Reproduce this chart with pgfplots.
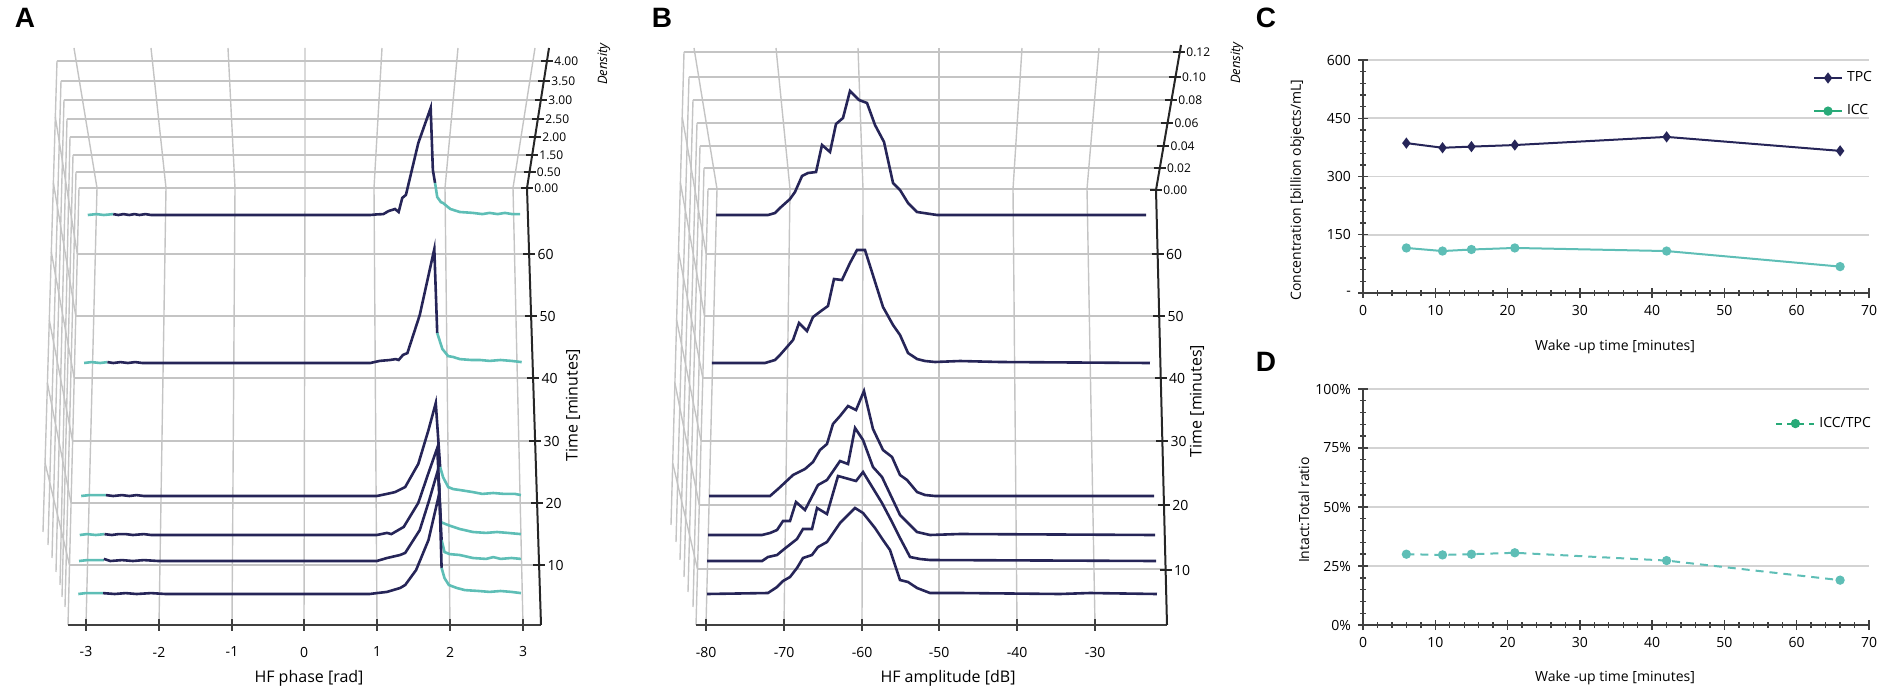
\documentclass[border=0pt]{standalone}
\usepackage{pgfplots}
\pgfplotsset{compat=1.18}
\usepackage{fontspec}
\setmainfont{Open Sans}
\newfontfamily\letterfont{Liberation Sans}
\definecolor{navy}{HTML}{262558}
\definecolor{teal2}{HTML}{5EBEB6}
\definecolor{lgreen}{HTML}{28AA78}
\definecolor{gridc}{HTML}{C4C4C4}
\definecolor{gridcd}{HTML}{D3D3D3}
\definecolor{axc}{HTML}{404040}
\tikzset{gridl/.style={gridc, line width=0.7pt}, axl/.style={black!85, line width=1pt}}
\newcommand{\Aseg}[3]{\addplot[#2, line width=1.3pt, forget plot] table[row sep=\\, header=false, x expr=304+72.8*\thisrowno{0}, y expr=#1-30*\thisrowno{1}] {#3};}
\newcommand{\Bseg}[2]{\addplot[navy, line width=1.3pt, forget plot] table[row sep=\\, header=false, x expr=706+7.77*(\thisrowno{0}+80), y expr=#1-1000*\thisrowno{1}] {#2};}
\begin{document}
\begin{tikzpicture}
\useasboundingbox (0,0) rectangle (950.5pt,-347pt);
\begin{scope}[x=0.5pt, y=-0.5pt]
% ================= PANEL A grid =================
\foreach \a/\b/\c in {79/188/527, 76/172/529.5, 73/155/532, 70/137/535, 67/119/538, 64/100/541, 61/81/544, 57/61/547}
  \draw[gridl] (\a,\b) -- (\c,\b);
\foreach \a/\b/\c/\d in {79/188/68/625, 76/172/65/607, 73/155/62/597, 70/137/60/585, 67/119/56/572, 64/100/52/558, 61/81/48/545, 57/61/43/532}
  \draw[gridl] (\a,\b) -- (\c,\d);
\foreach \a/\b/\c/\d in {77.3/254/55.3/117, 75.8/316/53.4/183, 74.2/378/51.3/252, 72.6/441/49.3/320, 71.1/503/47.4/383, 69.5/565/45.1/463}
  \draw[gridl] (\a,\b) -- (\c,\d);
\foreach \a/\b/\c in {77.3/254/529.1, 75.8/316/531.1, 74.2/378/533.1, 72.6/441/535.1, 71.1/503/537.1, 69.5/565/539.1}
  \draw[gridl] (\a,\b) -- (\c,\b);
\foreach \a/\b/\c in {86/97/74, 159/166/151, 232/235/228, 304/305/305, 377/374/382, 450/445/458, 523/513/535}
  \draw[gridl] (\a,625) -- (\b,188) -- (\c,48);
% axes A
\draw[axc, line width=1pt] (68,625) -- (541,625);
\foreach \a/\l in {86/-3, 159/-2, 232/-1, 304/0, 377/1, 450/2, 523/3} {
  \draw[axc, line width=0.8pt] (\a,619) -- (\a,631);
  \node[font=\fontsize{7}{8}\selectfont] at (\a,652) {\l};
}
\draw[axl] (541,625) -- (527,188) -- (549,48);
\foreach \a/\b/\l in {529.1/254/60, 531.1/316/50, 533.1/378/40, 535.1/441/30, 537.1/503/20, 539.1/565/10} {
  \draw[axl, line width=0.8pt] (\a-6,\b) -- (\a+6,\b);
  \node[font=\fontsize{7}{8}\selectfont, anchor=west, inner sep=0pt] at (\a+8,\b) {\l};
}
\foreach \a/\b/\l in {527/188/0.00, 529.5/172/0.50, 532/155/1.50, 535/137/2.00, 538/119/2.50, 541/100/3.00, 544/81/3.50, 547/61/4.00} {
  \draw[axl, line width=0.8pt] (\a-6,\b) -- (\a+6,\b);
  \node[font=\fontsize{6}{7}\selectfont, anchor=west, inner sep=0pt] at (\a+7,\b) {\l};
}
\node[font=\fontsize{8}{9}\selectfont] at (309,678) {HF phase [rad]};
\node[font=\fontsize{8}{9}\selectfont, rotate=90] at (573,405) {Time [minutes]};
\node[font=\fontsize{6.5}{7}\selectfont\itshape, rotate=90] at (604,64) {Density};
\node[font=\fontsize{14}{16}\selectfont\letterfont\bfseries] at (25,18) {A};
% ================= PANEL B grid =================
\foreach \a/\b/\c in {708/189/1156, 704/168/1159.7, 700/146/1163.3, 697/123/1167.2, 693/100/1171, 689/77/1174.8, 684/52/1179}
  \draw[gridl] (\a,\b) -- (\c,\b);
\foreach \a/\b/\c/\d in {708/189/696/625, 704/168/693/607, 700/146/688/592, 697/123/684/577, 693/100/680/560, 689/77/676/542, 684/52/671/525}
  \draw[gridl] (\a,\b) -- (\c,\d);
\foreach \a/\b/\c/\d in {706.2/254/682.2/117, 704.5/316/680.4/183, 702.8/378/678.5/252, 701.1/441/676.6/320, 699.3/505/674.9/383, 697.5/569/672.7/463}
  \draw[gridl] (\a,\b) -- (\c,\d);
\foreach \a/\b/\c in {706.2/254/1157.6, 704.5/316/1159.2, 702.8/378/1160.8, 701.1/441/1162.3, 699.3/505/1164, 697.5/569/1165.6}
  \draw[gridl] (\a,\b) -- (\c,\b);
\foreach \a/\b/\c in {706/717/694, 784/790/776, 862/863/858, 939/939/939, 1017/1013/1022, 1095/1087/1099}
  \draw[gridl] (\a,625) -- (\b,189) -- (\c,48);
\draw[axc, line width=1pt] (696,625) -- (1167,625);
\foreach \a/\l in {706/-80, 784/-70, 862/-60, 939/-50, 1017/-40, 1095/-30} {
  \draw[axc, line width=0.8pt] (\a,619) -- (\a,631);
  \node[font=\fontsize{7}{8}\selectfont] at (\a,652) {\l};
}
\draw[axl] (1167,625) -- (1156,190) -- (1181,45);
\foreach \a/\b/\l in {1157.6/254/60, 1159.2/316/50, 1160.8/378/40, 1162.3/441/30, 1164/505/20, 1165.6/570/10} {
  \draw[axl, line width=0.8pt] (\a-6,\b) -- (\a+6,\b);
  \node[font=\fontsize{7}{8}\selectfont, anchor=west, inner sep=0pt] at (\a+8,\b) {\l};
}
\foreach \a/\b/\l in {1156/190/0.00, 1159.7/168/0.02, 1163.3/146/0.04, 1167.2/123/0.06, 1171/100/0.08, 1174.8/77/0.10, 1179/52/0.12} {
  \draw[axl, line width=0.8pt] (\a-6,\b) -- (\a+6,\b);
  \node[font=\fontsize{6}{7}\selectfont, anchor=west, inner sep=0pt] at (\a+7,\b) {\l};
}
\node[font=\fontsize{8}{9}\selectfont] at (948,678) {HF amplitude [dB]};
\node[font=\fontsize{8}{9}\selectfont, rotate=90] at (1197,401) {Time [minutes]};
\node[font=\fontsize{6.5}{7}\selectfont\itshape, rotate=90] at (1237,63) {Density};
\node[font=\fontsize{14}{16}\selectfont\letterfont\bfseries] at (662,18) {B};
\node[font=\fontsize{14}{16}\selectfont\letterfont\bfseries] at (1266,18) {C};
\node[font=\fontsize{14}{16}\selectfont\letterfont\bfseries] at (1266,362) {D};
\end{scope}
% ================= traces A and B =================
\begin{axis}[at={(0pt,0pt)}, anchor=north west, scale only axis, width=950.5pt, height=347pt,
  xmin=0, xmax=1901, ymin=0, ymax=694, y dir=reverse, hide axis, clip=false]
% A, t = 66
\Aseg{215}{teal2}{-2.97 0\\ -2.85 0.03\\ -2.75 0\\ -2.62 0.03\\}
\Aseg{215}{navy}{-2.62 0.03\\ -2.55 0\\ -2.48 0.03\\ -2.40 0\\ -2.33 0.03\\ -2.26 0\\ -2.18 0.03\\ -2.10 0\\ -1.90 0\\ 0.91 0\\ 1.00 0.02\\ 1.09 0.03\\ 1.16 0.13\\ 1.25 0.2\\ 1.30 0.1\\ 1.35 0.57\\ 1.40 0.67\\ 1.57 2.4\\ 1.74 3.57\\ 1.77 1.5\\ 1.80 1.07\\}
\Aseg{215}{teal2}{1.80 1.07\\ 1.83 0.6\\ 1.88 0.43\\ 1.91 0.4\\ 2.01 0.2\\ 2.14 0.1\\ 2.32 0.07\\ 2.45 0.03\\ 2.55 0.07\\ 2.66 0.03\\ 2.76 0.07\\ 2.86 0.03\\ 2.97 0.03\\}
% A, t = 42
\Aseg{363}{teal2}{-3.02 0\\ -2.92 0.03\\ -2.80 0\\ -2.70 0.03\\}
\Aseg{363}{navy}{-2.70 0.03\\ -2.62 0\\ -2.52 0.03\\ -2.42 0\\ -2.32 0.03\\ -2.22 0\\ -2.0 0\\ 0.91 0\\ 1.04 0.07\\ 1.18 0.1\\ 1.26 0.13\\ 1.30 0.1\\ 1.36 0.27\\ 1.42 0.33\\ 1.59 1.6\\ 1.79 3.8\\ 1.83 1.0\\}
\Aseg{363}{teal2}{1.83 1.0\\ 1.90 0.47\\ 1.98 0.23\\ 2.05 0.2\\ 2.14 0.13\\ 2.30 0.1\\ 2.42 0.1\\ 2.55 0.07\\ 2.70 0.1\\ 2.85 0.07\\ 2.99 0.03\\}
% A, t = 21
\Aseg{496}{teal2}{-3.06 0\\ -2.95 0.03\\ -2.84 0.03\\ -2.72 0.03\\}
\Aseg{496}{navy}{-2.72 0.03\\ -2.62 0\\ -2.5 0.03\\ -2.4 0\\ -2.3 0.03\\ -2.2 0\\ 1.0 0\\ 1.14 0.07\\ 1.25 0.13\\ 1.39 0.3\\ 1.57 1.07\\ 1.71 2.2\\ 1.81 3.1\\ 1.87 0.97\\}
\Aseg{496}{teal2}{1.87 0.97\\ 1.91 0.63\\ 1.98 0.3\\ 2.05 0.23\\ 2.14 0.2\\ 2.32 0.13\\ 2.45 0.07\\ 2.6 0.1\\ 2.75 0.07\\ 2.9 0.07\\ 2.98 0.03\\}
% A, t = 15
\Aseg{535}{teal2}{-3.08 0\\ -2.98 0.03\\ -2.86 0\\ -2.74 0.03\\}
\Aseg{535}{navy}{-2.74 0.03\\ -2.64 0\\ -2.55 0.03\\ -2.45 0.03\\ -2.35 0\\ -2.2 0.03\\ -2.1 0\\ 1.0 0\\ 1.14 0.07\\ 1.2 0.03\\ 1.37 0.27\\ 1.57 1.07\\ 1.71 2.07\\ 1.83 2.9\\ 1.88 0.43\\}
\Aseg{535}{teal2}{1.88 0.43\\ 1.98 0.33\\ 2.14 0.2\\ 2.32 0.1\\ 2.5 0.07\\ 2.65 0.1\\ 2.8 0.07\\ 2.98 0.03\\}
% A, t = 11
\Aseg{561}{teal2}{-3.09 0\\ -2.98 0.03\\ -2.86 0.03\\ -2.75 0.03\\}
\Aseg{561}{navy}{-2.75 0.07\\ -2.66 0\\ -2.5 0.03\\ -2.35 0\\ -2.2 0.03\\ -2.0 0\\ 1.0 0\\ 1.14 0.1\\ 1.32 0.2\\ 1.39 0.27\\ 1.59 1.03\\ 1.72 2.03\\ 1.84 3.03\\ 1.89 0.7\\}
\Aseg{561}{teal2}{1.89 0.7\\ 1.93 0.3\\ 2.0 0.23\\ 2.14 0.2\\ 2.32 0.1\\ 2.5 0.07\\ 2.6 0.13\\ 2.7 0.07\\ 2.85 0.1\\ 2.98 0.07\\}
% A, t = 6
\Aseg{594}{teal2}{-3.1 0\\ -3.0 0.03\\ -2.9 0.03\\ -2.76 0.03\\}
\Aseg{594}{navy}{-2.76 0.03\\ -2.6 0\\ -2.45 0.03\\ -2.3 0\\ -2.1 0.03\\ -1.9 0\\ 0.9 0\\ 1.0 0.03\\ 1.14 0.07\\ 1.32 0.2\\ 1.39 0.3\\ 1.54 0.8\\ 1.71 1.8\\ 1.86 3.37\\ 1.89 0.87\\}
\Aseg{594}{teal2}{1.89 0.87\\ 1.93 0.53\\ 1.99 0.3\\ 2.1 0.2\\ 2.21 0.13\\ 2.4 0.1\\ 2.55 0.07\\ 2.7 0.1\\ 2.85 0.07\\ 2.98 0.03\\}
% B, t = 66
\Bseg{215}{-78.71 0\\ -72.02 0\\ -71.12 0.002\\ -70.48 0.007\\ -69.19 0.016\\ -68.55 0.023\\ -67.64 0.039\\ -66.87 0.042\\ -65.84 0.043\\ -65.07 0.070\\ -64.04 0.063\\ -63.27 0.091\\ -62.37 0.097\\ -61.47 0.124\\ -60.31 0.115\\ -59.28 0.112\\ -58.25 0.090\\ -57.09 0.073\\ -55.93 0.032\\ -55.03 0.025\\ -54.00 0.012\\ -52.84 0.003\\ -50.27 0\\ -23.37 0\\}
% B, t = 42
\Bseg{363}{-79.23 0\\ -72.41 0\\ -71.12 0.003\\ -70.48 0.008\\ -69.58 0.016\\ -68.80 0.023\\ -68.03 0.040\\ -67.00 0.032\\ -66.23 0.046\\ -65.20 0.052\\ -64.30 0.057\\ -63.53 0.084\\ -62.50 0.083\\ -61.47 0.100\\ -60.57 0.113\\ -59.54 0.113\\ -57.22 0.056\\ -55.93 0.038\\ -55.03 0.028\\ -54.00 0.010\\ -52.84 0.004\\ -51.81 0.002\\ -50.53 0.001\\ -47.31 0.002\\ -42.16 0.001\\ -22.86 0\\}
% B, t = 21
\Bseg{496}{-79.61 0\\ -71.76 0\\ -70.73 0.007\\ -68.80 0.021\\ -67.26 0.027\\ -66.23 0.034\\ -65.33 0.046\\ -64.43 0.052\\ -63.66 0.072\\ -62.75 0.080\\ -61.72 0.090\\ -60.69 0.086\\ -59.67 0.105\\ -58.51 0.067\\ -57.22 0.046\\ -56.06 0.039\\ -55.03 0.021\\ -54.13 0.016\\ -52.84 0.004\\ -51.81 0.001\\ -50.53 0\\ -22.34 0\\}
% B, t = 15
\Bseg{535}{-79.74 0\\ -72.79 0\\ -71.76 0.002\\ -70.86 0.005\\ -70.09 0.014\\ -69.19 0.014\\ -68.42 0.033\\ -67.26 0.025\\ -65.59 0.050\\ -64.43 0.055\\ -62.75 0.074\\ -61.72 0.071\\ -60.82 0.107\\ -59.79 0.095\\ -58.51 0.068\\ -57.35 0.058\\ -55.03 0.020\\ -52.84 0.003\\ -51.17 0\\ -47.31 0.001\\ -22.21 0\\}
% B, t = 11
\Bseg{561}{-79.87 0\\ -72.79 0\\ -72.02 0.004\\ -70.86 0.006\\ -70.09 0.011\\ -68.29 0.022\\ -67.52 0.032\\ -66.36 0.032\\ -65.71 0.053\\ -64.43 0.047\\ -63.01 0.085\\ -60.69 0.080\\ -59.79 0.089\\ -57.35 0.058\\ -56.06 0.039\\ -55.03 0.023\\ -53.74 0.004\\ -52.46 0.002\\ -51.17 0.001\\ -22.08 0\\}
% B, t = 6
\Bseg{594}{-79.87 0\\ -72.02 0.001\\ -70.86 0.007\\ -70.09 0.013\\ -69.19 0.017\\ -68.29 0.026\\ -67.52 0.036\\ -66.36 0.039\\ -65.59 0.047\\ -64.43 0.052\\ -62.75 0.071\\ -60.82 0.086\\ -59.79 0.081\\ -58.25 0.066\\ -57.22 0.054\\ -56.32 0.044\\ -55.03 0.014\\ -54.00 0.012\\ -52.84 0.006\\ -51.17 0.001\\ -47.31 0.001\\ -34.44 0\\ -30.58 0.001\\ -21.96 0\\}
\end{axis}
% ================= PANEL C =================
\pgfplotsset{cdstyle/.style={scale only axis, width=253pt, xmin=0, xmax=70,
  axis x line*=bottom, axis y line*=left, axis line style={axc, line width=0.9pt},
  xtick={0,10,...,70}, xticklabels={0,10,20,30,40,50,60,70},
  minor x tick num=4, minor y tick num=4, tick align=center,
  major tick length=5pt, minor tick length=3pt, tick style={axc, line width=0.7pt},
  ymajorgrids, grid style={gridcd, line width=0.8pt},
  ticklabel style={font=\fontsize{7}{8}\selectfont},
  label style={font=\fontsize{7}{8}\selectfont},
  legend cell align=left,
  legend style={draw=none, fill=none, inner sep=0pt, font=\fontsize{7}{8}\selectfont}}}
\begin{axis}[cdstyle, at={(681.5pt,-146.5pt)}, anchor=south west, height=116.5pt,
  ymin=0, ymax=600, ytick={0,150,300,450,600}, yticklabels={-,150,300,450,600},
  xlabel={Wake -up time [minutes]}, ylabel={Concentration [billion objects/mL]},
  xlabel style={at={(axis description cs:0.498,-0.232)}, anchor=center},
  ylabel style={at={(axis description cs:-0.130,0.442)}, anchor=center},
  legend style={at={(axis cs:62.2,582)}, anchor=north west, row sep=6pt},
  legend image code/.code={\draw[mark repeat=2,mark phase=2,#1] plot coordinates {(0pt,0pt) (7pt,0pt) (14pt,0pt)};}]
\addplot[navy, line width=1pt, mark=diamond*, mark size=2pt] coordinates {(6,386) (11,374) (15,377) (21,381) (42,402) (66,366)};
\addlegendentry{TPC}
\addplot[teal2, line width=1pt, mark=*, mark size=1.8pt, forget plot] coordinates {(6,116) (11,108) (15,112) (21,116) (42,108) (66,68)};
\addlegendimage{lgreen, line width=1pt, mark=*, mark size=1.8pt}
\addlegendentry{ICC}
\end{axis}
% ================= PANEL D =================
\begin{axis}[cdstyle, at={(681.5pt,-312.5pt)}, anchor=south west, height=118pt,
  ymin=0, ymax=100, ytick={0,25,50,75,100}, yticklabels={0\%,25\%,50\%,75\%,100\%},
  xlabel={Wake -up time [minutes]}, ylabel={Intact:Total ratio},
  xlabel style={at={(axis description cs:0.498,-0.222)}, anchor=center},
  ylabel style={at={(axis description cs:-0.117,0.487)}, anchor=center},
  legend style={at={(axis cs:57,90)}, anchor=north west},
  legend image code/.code={\draw[mark repeat=2,mark phase=2,#1] plot coordinates {(0pt,0pt) (9.5pt,0pt) (19pt,0pt)};}]
\addplot[teal2, line width=1pt, dash pattern=on 4pt off 3pt, mark=*, mark size=1.8pt, mark options={solid}, forget plot] coordinates {(6,30.0) (11,29.7) (15,30.0) (21,30.6) (42,27.3) (66,19.0)};
\addlegendimage{lgreen, line width=1pt, dash pattern=on 3pt off 2.5pt, mark=*, mark size=1.8pt, mark options={solid}}
\addlegendentry{ICC/TPC}
\end{axis}
\end{tikzpicture}
\end{document}
